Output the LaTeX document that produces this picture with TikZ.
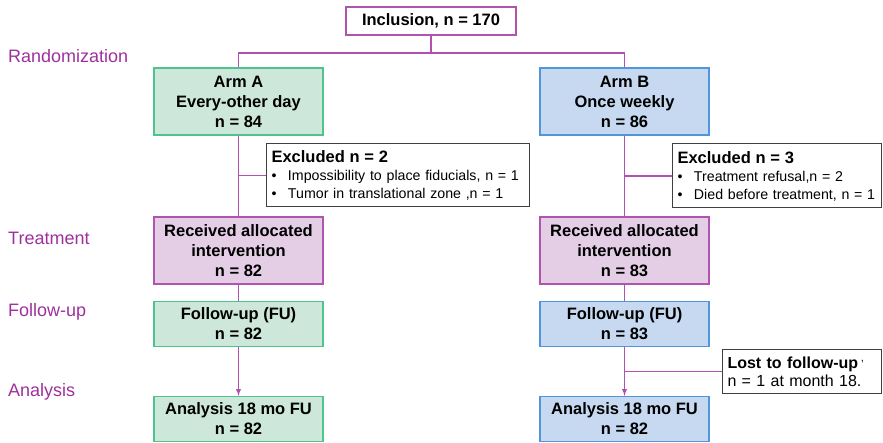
\documentclass[tikz,border=0pt]{standalone}
\usepackage{fontspec}
\setmainfont{Liberation Sans}
\usetikzlibrary{positioning}
\tikzset{>=latex}
\definecolor{flowline}{RGB}{178,80,178}
\definecolor{phasetext}{RGB}{158,48,158}
\definecolor{armAfill}{RGB}{205,232,218}
\definecolor{armAdraw}{RGB}{78,196,140}
\definecolor{armBfill}{RGB}{198,217,240}
\definecolor{armBdraw}{RGB}{80,150,218}
\definecolor{recfill}{RGB}{228,206,230}
\definecolor{recdraw}{RGB}{176,84,176}
\tikzset{
  flowbox/.style={draw, line width=1.3pt, minimum width=169pt, align=center, font=\fontsize{16.5}{20}\selectfont\bfseries, inner sep=1pt},
  armA/.style={flowbox, fill=armAfill, draw=armAdraw},
  armB/.style={flowbox, fill=armBfill, draw=armBdraw},
  recbox/.style={flowbox, fill=recfill, draw=recdraw},
  sidebox/.style={draw=black!75, line width=1pt, fill=white, align=left, inner xsep=5pt, inner ysep=2pt, font=\fontsize{14.2}{18}\selectfont},
  phase/.style={anchor=west, text=phasetext, inner sep=0pt, font=\fontsize{18}{20}\selectfont},
  link/.style={draw=flowline, line width=1.3pt}
}
\newcommand{\bul}[1]{\mbox{\makebox[16.5pt][l]{\textbullet}#1}}
\begin{document}
\begin{tikzpicture}[x=1pt,y=-1pt]
\useasboundingbox (0,0) rectangle (883,443);
% phases
\node[phase] (lrand) at (8,56) {Randomization};
\node[phase] (ltreat) at (8,238) {Treatment};
\node[phase] (lfu) at (8,312) {Follow-up};
\node[phase] (lana) at (8,392) {Analysis};
% top
\node[flowbox, draw=recdraw, fill=white, minimum width=170pt, minimum height=28pt] (incl) at (431,21) {Inclusion, n = 170};
\coordinate (split) at (431,53);
% arms
\node[armA, minimum height=67pt] (armA) at (238.5,101.5) {Arm A\\Every-other day\\n = 84};
\node[armB, minimum height=67pt] (armB) at (624.5,101.5) {Arm B\\Once weekly\\n = 86};
\node[recbox, minimum height=67pt] (recA) at (238.5,250.5) {Received allocated\\intervention\\n = 82};
\node[recbox, minimum height=67pt] (recB) at (624.5,250.5) {Received allocated\\intervention\\n = 83};
\node[armA, minimum height=45pt] (fuA) at (238.5,324) {Follow-up (FU)\\n = 82};
\node[armB, minimum height=45pt] (fuB) at (624.5,324) {Follow-up (FU)\\n = 83};
\node[armA, minimum height=45pt] (anaA) at (238.5,419) {Analysis 18 mo FU\\n = 82};
\node[armB, minimum height=45pt] (anaB) at (624.5,419) {Analysis 18 mo FU\\n = 82};
% side boxes
\node[sidebox, anchor=west, text width=253pt, minimum height=63pt] (exA) at (266,175.5) {{\fontsize{16.5}{18}\selectfont\bfseries Excluded n = 2}\\\bul{Impossibility to place fiducials, n = 1}\\\bul{Tumor in translational zone ,n = 1}};
\node[sidebox, anchor=west, text width=199pt, minimum height=64pt] (exB) at (672,176) {{\fontsize{16.5}{18}\selectfont\bfseries Excluded n = 3}\\\bul{Treatment refusal,n = 2}\\\bul{Died before treatment, n = 1}};
\node[sidebox, anchor=west, text width=149pt, minimum height=43pt, font=\fontsize{16}{18}\selectfont] (lost) at (722,371.5) {\textbf{Lost to follow-up}\,\textsuperscript{,}\\n = 1 at month 18.};
% connectors
\draw[link] (incl) -- (split);
\draw[link] (armA.north) |- (split) -| (armB.north);
\draw[link] (armA) -- (recA);
\draw[link] (armB) -- (recB);
\draw[link] (exA.west) -- (exA.west -| armA.south);
\draw[link] (exB.west) -- (exB.west -| armB.south);
\draw[link] (recA) -- (fuA);
\draw[link] (recB) -- (fuB);
\draw[link,->] (fuA) -- (anaA);
\draw[link,->] (fuB) -- (anaB);
\draw[link] (lost.west) -- (lost.west -| fuB.south);
\end{tikzpicture}
\end{document}
